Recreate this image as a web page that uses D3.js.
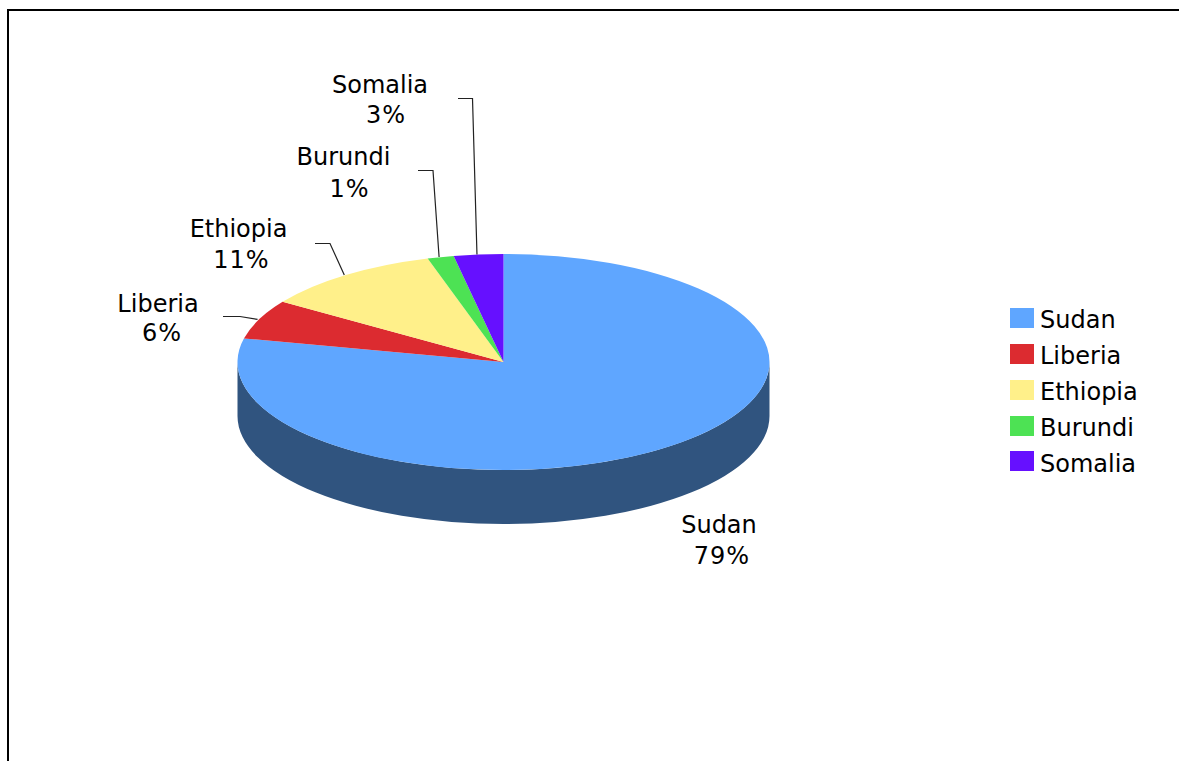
<!DOCTYPE html>
<html>
<head>
<meta charset="utf-8">
<script src="https://cdnjs.cloudflare.com/ajax/libs/d3/7.8.5/d3.min.js"></script>
<style>
html,body{margin:0;padding:0;background:#fff;overflow:hidden}
svg{display:block}
text{font-family:"DejaVu Sans",sans-serif;font-size:24px;fill:#000}
text.pct{letter-spacing:1px}
</style>
</head>
<body>
<svg id="chart" width="1179" height="761"></svg>
<script>
const categories = ["Sudan","Liberia","Ethiopia","Burundi","Somalia"];
const sliceValues = [78.5,5.9,11.0,1.6,3.0];
const percentLabels = ["79%","6%","11%","1%","3%"];
const sliceColors = ["#5FA6FF","#DC2B30","#FFF08A","#4DE254","#6610FF"];
const sideColor = "#30547F";

// layout
const cx = 503.5, cy = 362, rx = 266, ry = 108, depth = 54;
const leaderNudge = -1.5;
const labelLayout = [
  {nameX:719,  nameY:533, pctX:722,   pctY:564, elbow:null},
  {nameX:158,  nameY:312, pctX:162,   pctY:341, elbow:[[223,316.5],[240,316.5]]},
  {nameX:238.5,nameY:237, pctX:241.5, pctY:268, elbow:[[315,243.5],[330,243.5]]},
  {nameX:343.5,nameY:165, pctX:349.5, pctY:197, elbow:[[418,170.5],[433,170.5]]},
  {nameX:380,  nameY:93,  pctX:386,   pctY:123, elbow:[[458,98.5],[472.5,98.5]]}
];
const legendRows = [308,344,380,416,451];

const svg = d3.select("#chart");

// frame
svg.append("path")
  .attr("d","M8,761V10H1179")
  .attr("fill","none").attr("stroke","#000").attr("stroke-width",2);

// pie side wall
svg.append("path")
  .attr("d",`M${cx-rx},${cy}A${rx},${ry} 0 0 0 ${cx+rx},${cy}V${cy+depth}A${rx},${ry} 0 0 1 ${cx-rx},${cy+depth}Z`)
  .attr("fill",sideColor);

// pie top
const pie = d3.pie().sort(null).value(d=>d)(sliceValues);
const arc = d3.arc().innerRadius(0).outerRadius(rx);
svg.append("g")
  .attr("transform",`translate(${cx},${cy}) scale(1,${ry/rx})`)
  .selectAll("path").data(pie).join("path")
  .attr("d",arc)
  .attr("fill",(d,i)=>sliceColors[i]);

// leader lines
const line = d3.line();
pie.forEach((d,i)=>{
  const e = labelLayout[i].elbow;
  if(!e) return;
  const a = (d.startAngle+d.endAngle)/2;
  const anchor = [cx+rx*Math.sin(a)+leaderNudge, cy-ry*Math.cos(a)];
  svg.append("path")
    .attr("d",line([...e,anchor]))
    .attr("fill","none").attr("stroke","#222").attr("stroke-width",1.2);
});

// labels
categories.forEach((c,i)=>{
  const l = labelLayout[i];
  svg.append("text").attr("x",l.nameX).attr("y",l.nameY).attr("text-anchor","middle").text(c);
  svg.append("text").attr("class","pct").attr("x",l.pctX).attr("y",l.pctY).attr("text-anchor","middle").text(percentLabels[i]);
});

// legend
const legend = svg.append("g").selectAll("g").data(categories).join("g")
  .attr("transform",(c,i)=>`translate(1010,${legendRows[i]})`);
legend.append("rect").attr("width",24).attr("height",20)
  .attr("fill",(c,i)=>sliceColors[i]);
legend.append("text").attr("x",30).attr("y",(c,i)=>i===4?21:20).text(c=>c);
</script>
</body>
</html>
